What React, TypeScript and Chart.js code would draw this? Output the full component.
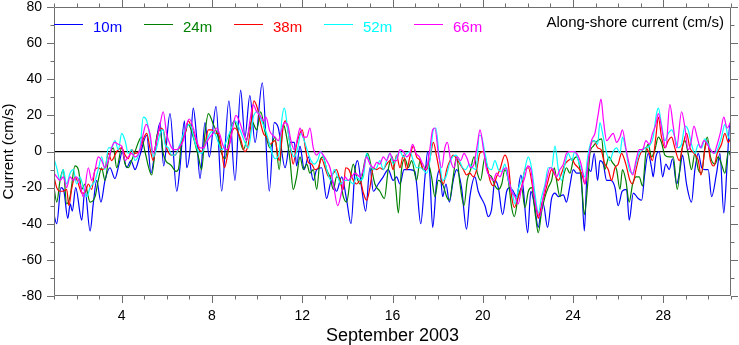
import { useEffect, useRef } from 'react';
import { Chart, registerables } from 'chart.js';

Chart.register(...registerables);

// ---- data: [day of September 2003, current cm/s] ----
const s10: [number, number][] = [
  [1.00,-35],[1.12,-40],[1.31,-20],[1.44,-22],[1.61,-37],[1.72,-29],[1.81,-33],[1.96,-20],[2.23,-38],[2.37,-21],
  [2.60,-44],[2.74,-29],[2.89,-16],[3.08,-28],[3.26,-16],[3.48,-9],[3.70,-15],[3.88,-7],[4.03,0],[4.22,-9],
  [4.41,-5],[4.59,-10],[4.81,-2],[5.11,9],[5.30,-12],[5.50,3],[5.70,16],[5.86,-8],[6.14,21],[6.44,-22],
  [6.58,-9],[6.78,17],[6.88,-9],[7.03,1],[7.17,24],[7.32,8],[7.47,-15],[7.69,16],[7.88,-3],[8.18,25],
  [8.43,-22],[8.75,28],[9.02,-16],[9.27,34],[9.46,8],[9.68,31],[9.91,5],[10.23,38],[10.54,-22],[10.76,16],
  [10.94,13],[11.24,-9],[11.46,5],[11.65,5],[11.75,-8],[11.90,3],[12.09,-10],[12.27,-3],[12.49,-16],[12.64,-10],
  [12.86,-9],[13.08,-26],[13.30,-16],[13.52,-22],[13.75,-14],[13.97,-27],[14.16,-40],[14.34,-10],[14.45,-5],[14.63,-20],
  [14.81,-33],[15.00,-9],[15.15,-22],[15.37,-18],[15.59,-14],[15.81,-10],[16.03,-16],[16.18,-14],[16.33,-18],[16.51,-10],
  [16.77,-10],[16.99,-11],[17.07,-18],[17.25,-40],[17.44,-14],[17.56,0],[17.66,-14],[17.78,-42],[17.96,-16],[18.10,-10],
  [18.22,-25],[18.37,-18],[18.52,-28],[18.69,-16],[18.84,-10],[19.06,-20],[19.28,-43],[19.43,-25],[19.65,-14],[19.80,-22],
  [20.10,-30],[20.24,-36],[20.39,-32],[20.54,-16],[20.69,-20],[20.88,-35],[21.06,-22],[21.20,-20],[21.35,-22],[21.50,-25],
  [21.69,-13],[21.79,-20],[21.99,-45],[22.13,-22],[22.28,-29],[22.46,-42],[22.58,-33],[22.68,-29],[22.87,-42],[23.05,-26],
  [23.20,-23],[23.35,-25],[23.57,-24],[23.71,-28],[23.86,-19],[24.01,-10],[24.16,-12],[24.35,-12],[24.50,-44],[24.64,-9],
  [24.79,-11],[24.94,-1],[25.09,-16],[25.19,-5],[25.34,-7],[25.49,-16],[25.68,-16],[25.86,-20],[26.00,-30],[26.18,-22],
  [26.37,-21],[26.49,-38],[26.67,-23],[26.89,-26],[27.04,-27],[27.18,-12],[27.33,-1],[27.48,-9],[27.55,-14],[27.67,-3],
  [27.82,0],[27.97,-14],[28.11,-7],[28.26,-10],[28.41,-4],[28.59,-18],[28.74,-10],[28.85,-2],[29.03,-18],[29.25,-28],
  [29.40,-10],[29.55,-1],[29.70,-9],[29.84,-10],[29.99,-10],[30.14,-25],[30.36,-12],[30.51,-1],[30.68,-34],[30.83,-7],
  [30.95,15],[31.00,12],
];

const s24: [number, number][] = [
  [1.00,-20],[1.12,-28],[1.27,-16],[1.41,-10],[1.56,-29],[1.71,-25],[1.93,-8],[2.08,-10],[2.23,-21],[2.37,-18],
  [2.60,-28],[2.82,-25],[2.96,-16],[3.11,-9],[3.26,-16],[3.41,-5],[3.63,2],[3.78,-9],[4.00,2],[4.15,-7],
  [4.29,-9],[4.44,-5],[4.59,0],[4.88,8],[5.03,0],[5.33,-13],[5.55,8],[5.70,12],[5.84,-1],[6.21,-8],
  [6.41,-11],[6.51,-10],[6.66,6],[6.81,10],[6.95,15],[7.17,8],[7.40,-3],[7.54,-10],[7.69,10],[7.84,21],
  [8.06,15],[8.28,8],[8.43,-1],[8.58,-4],[8.80,10],[8.98,17],[9.17,10],[9.39,1],[9.57,8],[9.76,17],
  [9.98,12],[10.16,22],[10.35,11],[10.57,2],[10.79,8],[10.98,-10],[11.16,15],[11.31,8],[11.46,-5],[11.60,-21],
  [11.75,-14],[11.90,-3],[12.05,-10],[12.20,-7],[12.34,-12],[12.49,-10],[12.64,-21],[12.79,-5],[12.93,-3],[13.08,-10],
  [13.23,-14],[13.38,-21],[13.52,-14],[13.67,-15],[13.82,-25],[13.97,-28],[14.12,-16],[14.26,-7],[14.41,-14],[14.56,-18],
  [14.78,-5],[14.90,-1],[15.08,-10],[15.22,-18],[15.44,-22],[15.64,-26],[15.81,-10],[15.99,-3],[16.15,-21],[16.26,-34],
  [16.40,-10],[16.55,-4],[16.70,-9],[16.85,-5],[17.07,-16],[17.22,-5],[17.36,-10],[17.59,-7],[17.73,-14],[17.88,-25],
  [18.03,-16],[18.25,-19],[18.40,-25],[18.52,-27],[18.69,-14],[18.84,-3],[18.99,-18],[19.17,-30],[19.31,-16],[19.46,-10],
  [19.61,-3],[19.76,-12],[19.90,-16],[20.10,-3],[20.24,-12],[20.39,-14],[20.54,-19],[20.69,-21],[20.84,-18],[20.98,-10],
  [21.13,-16],[21.28,-31],[21.40,-36],[21.57,-25],[21.72,-20],[21.87,-31],[22.02,-22],[22.16,-20],[22.34,-36],[22.46,-45],
  [22.61,-33],[22.76,-25],[22.90,-20],[23.05,-16],[23.17,-9],[23.27,-16],[23.42,-25],[23.57,-14],[23.71,-9],[23.86,-12],
  [24.01,-5],[24.16,-3],[24.31,-10],[24.41,-23],[24.50,-35],[24.65,-18],[24.75,-1],[24.90,3],[25.09,6],[25.27,7],
  [25.41,-10],[25.59,-3],[25.74,-6],[25.93,-10],[26.08,-21],[26.19,-10],[26.34,-16],[26.49,-28],[26.64,-18],[26.79,-14],
  [26.93,-14],[27.08,-19],[27.23,0],[27.33,4],[27.48,-3],[27.63,1],[27.78,8],[27.92,5],[28.07,-2],[28.26,-3],
  [28.44,-3],[28.62,-21],[28.81,0],[28.96,6],[29.10,-1],[29.25,-10],[29.40,-1],[29.55,-10],[29.70,-12],[29.84,2],
  [29.95,8],[30.09,-3],[30.29,-7],[30.43,-3],[30.58,-7],[30.73,-12],[30.88,0],[31.00,-3],
];

const s38: [number, number][] = [
  [1.00,-14],[1.12,-20],[1.27,-22],[1.41,-22],[1.56,-21],[1.66,-30],[1.78,-21],[1.93,-14],[2.08,-18],[2.23,-23],
  [2.37,-23],[2.52,-18],[2.67,-21],[2.82,-10],[2.96,-9],[3.11,-10],[3.26,-9],[3.41,-1],[3.55,-5],[3.78,0],
  [4.00,2],[4.15,-2],[4.29,-4],[4.44,1],[4.59,-1],[4.81,1],[4.96,7],[5.11,10],[5.25,2],[5.40,-5],
  [5.55,6],[5.70,13],[5.84,12],[5.99,2],[6.21,-2],[6.36,-2],[6.51,1],[6.66,5],[6.81,10],[6.95,17],
  [7.10,13],[7.25,8],[7.40,2],[7.54,0],[7.69,4],[7.84,12],[7.99,12],[8.13,10],[8.28,10],[8.43,1],
  [8.55,-9],[8.72,0],[8.87,10],[9.02,13],[9.24,8],[9.46,0],[9.61,4],[9.71,13],[9.86,28],[10.01,24],
  [10.13,17],[10.28,10],[10.42,8],[10.57,4],[10.79,6],[10.98,-5],[11.16,14],[11.26,17],[11.46,4],[11.60,-7],
  [11.75,4],[11.90,10],[12.00,12],[12.15,1],[12.27,-6],[12.42,-7],[12.56,-10],[12.71,-9],[12.86,-4],[13.01,-9],
  [13.18,-14],[13.38,-12],[13.52,-10],[13.67,-16],[13.82,-21],[13.92,-9],[14.07,-10],[14.22,-15],[14.41,-18],[14.56,-16],
  [14.71,-23],[14.85,-27],[15.00,-20],[15.15,-9],[15.30,-10],[15.44,-9],[15.59,-10],[15.74,-7],[15.89,-5],[16.03,-10],
  [16.18,-2],[16.33,-9],[16.48,-2],[16.63,-10],[16.77,-3],[16.92,3],[17.07,-3],[17.22,-5],[17.36,-10],[17.51,-10],
  [17.66,-4],[17.81,5],[17.96,-3],[18.10,-12],[18.25,-18],[18.40,-10],[18.55,-5],[18.69,-2],[18.84,-4],[18.99,-7],
  [19.14,-10],[19.28,-13],[19.43,-12],[19.58,-14],[19.73,-10],[19.87,-1],[20.02,0],[20.17,-7],[20.32,-16],[20.47,-19],
  [20.61,-14],[20.76,-10],[20.98,-2],[21.13,-7],[21.28,-25],[21.40,-31],[21.57,-25],[21.72,-20],[21.87,-10],[22.02,-9],
  [22.24,-22],[22.39,-33],[22.46,-37],[22.61,-29],[22.76,-23],[22.90,-16],[23.05,-10],[23.20,-13],[23.35,-16],[23.49,-12],
  [23.64,-7],[23.79,-5],[23.94,-4],[24.08,-7],[24.23,-9],[24.38,-12],[24.53,-18],[24.65,-7],[24.79,4],[24.94,6],
  [25.09,2],[25.24,1],[25.38,-6],[25.56,-10],[25.71,-16],[25.86,-9],[26.00,-7],[26.15,-1],[26.34,-7],[26.52,-16],
  [26.64,-18],[26.79,-10],[26.93,-3],[27.08,1],[27.23,2],[27.38,-1],[27.52,-5],[27.67,8],[27.78,19],[27.92,8],
  [28.07,2],[28.22,6],[28.37,8],[28.51,2],[28.71,-5],[28.88,4],[29.03,10],[29.18,2],[29.36,-1],[29.55,-5],
  [29.67,-13],[29.84,1],[29.95,6],[30.09,-5],[30.24,-8],[30.39,-1],[30.58,4],[30.73,10],[30.88,5],[31.00,8],
];

const s52: [number, number][] = [
  [1.00,-4],[1.12,-9],[1.27,-16],[1.41,-10],[1.56,-18],[1.71,-12],[1.86,-10],[2.00,-18],[2.15,-14],[2.30,-20],
  [2.45,-25],[2.60,-20],[2.82,-16],[2.96,-10],[3.11,-3],[3.26,-10],[3.41,2],[3.55,2],[3.70,6],[3.85,1],
  [4.00,10],[4.15,6],[4.29,-1],[4.44,1],[4.59,-5],[4.81,2],[4.96,19],[5.11,17],[5.25,8],[5.40,-3],
  [5.55,2],[5.70,10],[5.84,12],[5.92,4],[6.07,2],[6.21,-2],[6.36,-2],[6.58,4],[6.81,12],[7.03,15],
  [7.25,5],[7.40,0],[7.54,-1],[7.76,6],[7.99,11],[8.13,10],[8.28,5],[8.43,1],[8.58,4],[8.80,11],
  [9.02,17],[9.24,12],[9.46,5],[9.61,2],[9.83,19],[10.01,22],[10.20,17],[10.42,10],[10.64,0],[10.79,-4],
  [10.98,-1],[11.09,17],[11.21,24],[11.35,13],[11.50,1],[11.65,-3],[11.80,2],[11.94,10],[12.09,6],[12.24,0],
  [12.39,-5],[12.54,-7],[12.68,-5],[12.83,0],[12.98,-5],[13.13,-12],[13.27,-16],[13.42,-10],[13.57,-14],[13.72,-18],
  [13.89,-16],[14.07,-16],[14.26,-18],[14.41,-14],[14.56,-16],[14.71,-14],[14.85,-1],[15.00,-7],[15.15,-10],[15.30,-9],
  [15.44,-5],[15.59,-10],[15.74,-5],[15.89,-1],[16.03,-7],[16.18,-3],[16.33,0],[16.48,-3],[16.63,-1],[16.77,0],
  [16.92,-5],[17.07,-9],[17.22,-9],[17.36,-10],[17.51,-12],[17.66,-5],[17.81,12],[17.92,13],[18.07,-3],[18.22,-16],
  [18.37,-14],[18.52,-7],[18.66,-3],[18.81,-2],[18.96,-5],[19.11,-9],[19.25,-10],[19.40,-7],[19.55,-9],[19.70,-10],
  [19.85,9],[19.95,8],[20.10,-1],[20.24,-9],[20.39,-10],[20.54,-5],[20.69,-10],[20.84,-11],[20.98,-7],[21.13,-16],
  [21.28,-21],[21.43,-29],[21.57,-21],[21.79,-14],[22.02,-3],[22.16,-9],[22.31,-23],[22.46,-34],[22.61,-25],[22.76,-18],
  [22.90,-9],[23.05,-9],[23.20,3],[23.35,-10],[23.49,-16],[23.64,-7],[23.79,-1],[23.94,-5],[24.08,0],[24.23,-5],
  [24.38,-10],[24.53,-14],[24.65,-3],[24.79,5],[24.94,6],[25.09,4],[25.19,16],[25.34,8],[25.49,-1],[25.63,-5],
  [25.78,0],[25.93,2],[26.08,-1],[26.19,8],[26.34,1],[26.49,-10],[26.64,-12],[26.79,-7],[26.93,-1],[27.08,1],
  [27.23,2],[27.38,3],[27.55,8],[27.70,21],[27.78,24],[27.92,15],[28.07,6],[28.22,10],[28.37,12],[28.51,8],
  [28.66,2],[28.81,4],[28.96,14],[29.10,12],[29.25,4],[29.40,-1],[29.55,4],[29.70,2],[29.84,7],[29.99,4],
  [30.14,0],[30.29,-1],[30.43,2],[30.58,8],[30.73,15],[30.88,8],[31.00,7],
];

const s66: [number, number][] = [
  [1.00,-12],[1.12,-14],[1.27,-16],[1.41,-14],[1.56,-20],[1.71,-14],[1.86,-16],[2.00,-14],[2.15,-18],[2.30,-25],
  [2.52,-9],[2.67,-16],[2.82,-10],[2.96,-3],[3.11,-5],[3.26,-9],[3.41,-5],[3.55,2],[3.70,5],[3.85,4],
  [4.00,3],[4.15,-5],[4.29,-3],[4.44,-1],[4.59,-3],[4.81,1],[4.96,10],[5.08,15],[5.25,10],[5.40,-1],
  [5.55,6],[5.70,15],[5.84,22],[5.99,10],[6.14,4],[6.29,1],[6.44,1],[6.58,3],[6.73,6],[6.88,15],
  [7.00,18],[7.17,13],[7.32,6],[7.47,2],[7.62,2],[7.76,5],[7.91,8],[8.06,10],[8.21,13],[8.36,9],
  [8.50,3],[8.65,1],[8.80,5],[8.95,15],[9.06,20],[9.24,16],[9.39,10],[9.54,6],[9.68,17],[9.83,26],
  [9.98,22],[10.13,20],[10.28,17],[10.39,19],[10.57,11],[10.79,8],[10.94,6],[11.09,12],[11.21,16],[11.35,15],
  [11.50,6],[11.65,1],[11.80,8],[11.90,13],[12.05,8],[12.20,8],[12.34,13],[12.49,2],[12.64,-2],[12.79,0],
  [12.93,-2],[13.08,-5],[13.23,-9],[13.38,-18],[13.57,-30],[13.75,-22],[13.89,-14],[14.04,-16],[14.19,-14],[14.34,-12],
  [14.56,-14],[14.71,-10],[14.85,-3],[15.00,-7],[15.15,-9],[15.30,-6],[15.44,-7],[15.59,-3],[15.74,-5],[15.89,-1],
  [16.03,-5],[16.18,-5],[16.33,1],[16.48,0],[16.63,-3],[16.77,-1],[16.89,4],[17.04,-1],[17.19,-3],[17.34,-7],
  [17.48,-10],[17.63,-1],[17.78,12],[17.88,13],[18.03,-1],[18.18,-9],[18.32,2],[18.43,5],[18.58,-5],[18.72,-9],
  [18.87,-3],[19.02,-5],[19.17,-1],[19.31,-4],[19.46,-9],[19.61,-7],[19.76,4],[19.88,12],[20.02,2],[20.17,-10],
  [20.32,-14],[20.47,-16],[20.61,-12],[20.76,-14],[20.91,-10],[21.06,-9],[21.13,-14],[21.28,-22],[21.43,-25],[21.57,-29],
  [21.72,-20],[21.87,-14],[21.99,-8],[22.13,-10],[22.28,-25],[22.43,-34],[22.53,-36],[22.68,-25],[22.83,-16],[22.98,-9],
  [23.12,-10],[23.27,-14],[23.42,-10],[23.57,-7],[23.71,-1],[23.86,0],[24.01,0],[24.16,-1],[24.31,-5],[24.41,-10],
  [24.53,-18],[24.68,-5],[24.82,6],[24.97,10],[25.12,21],[25.24,29],[25.35,17],[25.49,6],[25.63,8],[25.78,10],
  [25.93,5],[26.08,8],[26.19,12],[26.34,2],[26.49,-7],[26.64,-13],[26.79,-5],[26.93,1],[27.08,1],[27.23,6],
  [27.38,4],[27.52,10],[27.67,15],[27.78,21],[27.97,10],[28.11,2],[28.29,26],[28.44,14],[28.59,2],[28.81,22],
  [28.96,13],[29.10,1],[29.21,4],[29.36,14],[29.50,8],[29.65,2],[29.80,6],[29.95,4],[30.09,1],[30.24,-1],
  [30.39,4],[30.54,11],[30.68,19],[30.83,13],[31.00,17],
];

const seriesData = [s10, s24, s38, s52, s66];
const seriesLabels = ['10m', '24m', '38m', '52m', '66m'];
const seriesColors = ['#0000ff', '#008000', '#ff0000', '#00ffff', '#ff00ff'];
const xLabelDays = [4, 8, 12, 16, 20, 24, 28];
const yLabelValues = [-80, -60, -40, -20, 0, 20, 40, 60, 80];
const panelTitle = 'Along-shore current (cm/s)';
const xTitle = 'September 2003';
const yTitle = 'Current (cm/s)';

const FONT = '"Liberation Sans", Arial, Helvetica, sans-serif';

const framePlugin = {
  id: 'frameTicksLegend',
  afterDraw(chart: any) {
    const { ctx, chartArea, scales } = chart;
    const { left, right, top, bottom } = chartArea;
    const xs = scales.x;
    const ys = scales.y;
    ctx.save();
    ctx.strokeStyle = '#6e6e6e';
    ctx.lineWidth = 1;
    ctx.beginPath();
    ctx.rect(left + 0.5, top + 0.5, right - left - 1, bottom - top - 1);
    ctx.stroke();
    ctx.beginPath();
    for (const t of xs.ticks) {
      const px = Math.round(xs.getPixelForValue(t.value)) + 0.5;
      const len = xLabelDays.includes(t.value) ? 7 : 3.5;
      ctx.moveTo(px, bottom);
      ctx.lineTo(px, bottom + len);
      ctx.moveTo(px, top);
      ctx.lineTo(px, top - len);
    }
    for (const t of ys.ticks) {
      const py = Math.round(ys.getPixelForValue(t.value)) + 0.5;
      const len = yLabelValues.includes(t.value) ? 7 : 3.5;
      ctx.moveTo(left, py);
      ctx.lineTo(left - len, py);
      ctx.moveTo(right, py);
      ctx.lineTo(right + len, py);
    }
    ctx.stroke();

    // legend inside the plot
    chart.data.datasets.forEach((ds: any, i: number) => {
      const x0 = left + i * 90;
      ctx.strokeStyle = ds.borderColor;
      ctx.lineWidth = 1;
      ctx.beginPath();
      ctx.moveTo(x0, 24.5);
      ctx.lineTo(x0 + 29, 24.5);
      ctx.stroke();
      ctx.fillStyle = ds.borderColor;
      ctx.font = `15px ${FONT}`;
      ctx.textAlign = 'left';
      ctx.textBaseline = 'alphabetic';
      ctx.fillText(ds.label, x0 + 39, 31.5);
    });

    ctx.fillStyle = '#000';
    ctx.font = `15px ${FONT}`;
    ctx.textAlign = 'right';
    ctx.textBaseline = 'alphabetic';
    ctx.fillText(panelTitle, right - 7, 26.5);
    ctx.restore();
  },
};

const zeroPadding = (s: any) => {
  s.paddingTop = 0;
  s.paddingBottom = 0;
  s.paddingLeft = 0;
  s.paddingRight = 0;
};

export default function App() {
  const ref = useRef<HTMLCanvasElement | null>(null);
  useEffect(() => {
    if (!ref.current) return;
    const chart = new Chart(ref.current, {
      type: 'line',
      data: {
        datasets: seriesData.map((s, i) => ({
          label: seriesLabels[i],
          data: s.map(([x, y]) => ({ x, y })),
          borderColor: seriesColors[i],
          backgroundColor: seriesColors[i],
          borderWidth: 1.2,
          pointRadius: 0,
          fill: false,
          cubicInterpolationMode: 'monotone' as const,
          order: seriesData.length - i,
        })),
      },
      options: {
        animation: false,
        responsive: false,
        devicePixelRatio: 1,
        layout: { padding: { top: 7, right: 8, left: 0, bottom: 0 } },
        plugins: { legend: { display: false }, tooltip: { enabled: false } },
        scales: {
          x: {
            type: 'linear',
            min: 1,
            max: 31,
            afterFit: (s: any) => { s.height = 49; zeroPadding(s); },
            border: { display: false },
            grid: { display: false, drawTicks: false },
            ticks: {
              stepSize: 1,
              autoSkip: false,
              maxRotation: 0,
              padding: 13,
              color: '#000',
              font: { family: FONT, size: 14, lineHeight: 1 },
              callback: (v: any) => (xLabelDays.includes(v) ? String(v) : ''),
            },
            title: {
              display: true,
              text: xTitle,
              color: '#000',
              font: { family: FONT, size: 18, lineHeight: 1 },
              padding: { top: 0, bottom: 0 },
            },
          },
          y: {
            min: -80,
            max: 80,
            afterFit: (s: any) => { s.width = 54; zeroPadding(s); },
            border: { display: false },
            grid: {
              drawTicks: false,
              drawOnChartArea: true,
              lineWidth: 1.2,
              color: (c: any) => (c.tick && c.tick.value === 0 ? '#000' : 'rgba(0,0,0,0)'),
            },
            ticks: {
              stepSize: 10,
              padding: 12,
              color: '#000',
              font: { family: FONT, size: 14, lineHeight: 1 },
              callback: (v: any) => (yLabelValues.includes(v) ? String(v) : ''),
            },
            title: {
              display: true,
              text: yTitle,
              color: '#000',
              font: { family: FONT, size: 15, lineHeight: 1 },
              padding: { top: 1.5, bottom: 0 },
            },
          },
        },
      },
      plugins: [framePlugin],
    });
    return () => chart.destroy();
  }, []);
  return (
    <div style={{ position: 'absolute', left: 0, top: 0, width: 739, height: 345, background: '#fff' }}>
      <canvas ref={ref} width={739} height={345} style={{ display: 'block' }} />
    </div>
  );
}
